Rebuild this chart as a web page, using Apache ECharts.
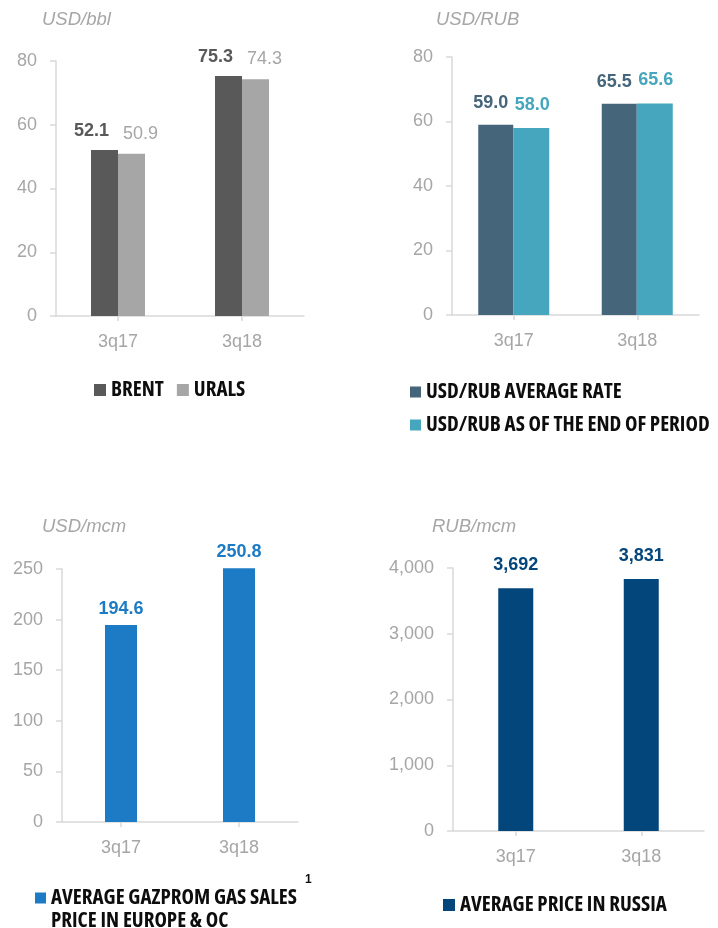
<!DOCTYPE html>
<html lang="en">
<head>
    <meta charset="UTF-8">
    <script src="https://cdnjs.cloudflare.com/ajax/libs/echarts/6.0.0/echarts.min.js"></script>
    <title>Prices and rates</title>
    <style>
        body { margin: 0; background: #fff; }
    </style>
</head>
<body>

<div id="chart" style="width: 718px;height: 928px"></div>

<script type="text/javascript">
    // data
    var categories = ['3q17', '3q18'];

    var brent = [52.1, 75.3];
    var urals = [50.9, 74.3];

    var usdRubAvg = [59.0, 65.5];
    var usdRubEnd = [58.0, 65.6];

    var gasEurope = [194.6, 250.8];
    var gasRussia = [3692, 3831];

    var units = ['USD/bbl', 'USD/RUB', 'USD/mcm', 'RUB/mcm'];

    var tickGray = '#A6A6A6';
    var lineGray = '#D9D9D9';
    var baseFont = '"Liberation Sans", Arial, sans-serif';

    function fmt1(p) { return p.value.toFixed(1); }
    function fmtThousands(v) { return String(v).replace(/\B(?=(\d{3})+(?!\d))/g, ','); }

    function xAxis(grid) {
        return {
            type: 'category',
            gridIndex: grid,
            data: categories,
            axisLine: { lineStyle: { color: lineGray, width: 1.5 } },
            axisTick: { show: true, alignWithLabel: true, length: 5, lineStyle: { color: lineGray, width: 1.5 } },
            axisLabel: { color: tickGray, fontSize: 18, fontFamily: baseFont, margin: 17 }
        };
    }

    function yAxis(grid, max, interval, formatter) {
        return {
            type: 'value',
            gridIndex: grid,
            min: 0,
            max: max,
            interval: interval,
            axisLine: { show: true, lineStyle: { color: lineGray, width: 1.5 } },
            axisTick: { show: true, length: 6, lineStyle: { color: lineGray, width: 1.5 } },
            splitLine: { show: false },
            axisLabel: { color: tickGray, fontSize: 18, fontFamily: baseFont, margin: 19, formatter: formatter }
        };
    }

    function barSeries(name, data, grid, color, width, labelOpts) {
        return {
            name: name,
            type: 'bar',
            xAxisIndex: grid,
            yAxisIndex: grid,
            data: data,
            barWidth: width,
            barGap: '0%',
            clip: false,
            itemStyle: { color: color },
            label: Object.assign({
                show: true,
                position: 'top',
                color: color,
                fontSize: 18,
                fontFamily: baseFont,
                fontWeight: 'bold',
                formatter: fmt1
            }, labelOpts)
        };
    }

    function unitTitle(text, left, top) {
        return {
            text: text, left: left, top: top, padding: 0,
            textStyle: { color: tickGray, fontSize: 18.5, fontStyle: 'italic', fontWeight: 'normal', fontFamily: baseFont }
        };
    }

    // condensed bold for the legends (Open Sans has condensed faces)
    var legendText = {
        color: '#0D0D0D', fontSize: 21, lineHeight: 23,
        fontWeight: 'bold condensed', fontFamily: '"Open Sans"'
    };

    var myChart = echarts.init(document.getElementById('chart'));

    var option = {
        backgroundColor: '#ffffff',
        animation: false,
        title: [
            unitTitle(units[0], 42, 10),
            unitTitle(units[1], 436, 10),
            unitTitle(units[2], 42, 517),
            unitTitle(units[3], 432, 517),
            {
                text: '1', left: 305, top: 874, padding: 0,
                textStyle: { color: '#0D0D0D', fontSize: 12, fontWeight: 'bold', fontFamily: baseFont }
            }
        ],
        grid: [
            { left: 56, top: 61, width: 248, height: 255 },
            { left: 452, top: 57, width: 247, height: 258 },
            { left: 62, top: 569, width: 236, height: 253 },
            { left: 453, top: 568, width: 251, height: 263 }
        ],
        xAxis: [xAxis(0), xAxis(1), xAxis(2), xAxis(3)],
        yAxis: [
            yAxis(0, 80, 20),
            yAxis(1, 80, 20),
            yAxis(2, 250, 50),
            yAxis(3, 4000, 1000, fmtThousands)
        ],
        legend: [
            {
                data: ['BRENT', 'URALS'], left: 94, top: 378.5, padding: 0, itemGap: 13,
                icon: 'rect', itemWidth: 12, itemHeight: 12, textStyle: legendText
            },
            {
                data: ['USD/RUB AVERAGE RATE', 'USD/RUB AS OF THE END OF PERIOD'],
                orient: 'vertical', left: 410, top: 380.5, padding: 0, itemGap: 10,
                icon: 'rect', itemWidth: 11, itemHeight: 11, textStyle: legendText
            },
            {
                data: ['AVERAGE GAZPROM GAS SALES PRICE IN EUROPE & OC'], left: 35, top: 863.5, padding: 0,
                icon: 'rect', itemWidth: 11, itemHeight: 11,
                formatter: function () { return '\nAVERAGE GAZPROM GAS SALES\nPRICE IN EUROPE & OC'; },
                textStyle: legendText
            },
            {
                data: ['AVERAGE PRICE IN RUSSIA'], left: 443, top: 893.5, padding: 0,
                icon: 'rect', itemWidth: 12, itemHeight: 12, textStyle: legendText
            }
        ],
        series: [
            barSeries('BRENT', brent, 0, '#595959', 27, { distance: 10, offset: [-13, 0] }),
            barSeries('URALS', urals, 0, '#A6A6A6', 27, { distance: 11, offset: [9, 0], fontWeight: 'normal' }),
            barSeries('USD/RUB AVERAGE RATE', usdRubAvg, 1, '#45657A', 35, { distance: 13, offset: [-5, 0] }),
            barSeries('USD/RUB AS OF THE END OF PERIOD', usdRubEnd, 1, '#45A6BD', 36, { distance: 14, offset: [1, 0] }),
            barSeries('AVERAGE GAZPROM GAS SALES PRICE IN EUROPE & OC', gasEurope, 2, '#1C7BC4', 32, { distance: 7 }),
            barSeries('AVERAGE PRICE IN RUSSIA', gasRussia, 3, '#03467B', 35, {
                distance: 14,
                formatter: function (p) { return fmtThousands(p.value); }
            })
        ]
    };

    myChart.setOption(option);
</script>
</body>
</html>
